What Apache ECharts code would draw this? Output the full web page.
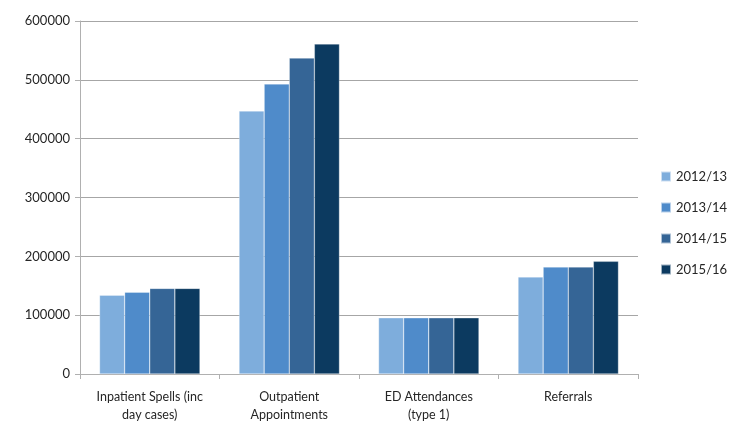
<!DOCTYPE html>
<html>
<head>
<meta charset="utf-8">
<script src="https://cdn.jsdelivr.net/npm/echarts@6/dist/echarts.min.js"></script>
<style>
  html, body { margin: 0; padding: 0; background: #fff; }
  #main { width: 741px; height: 426px; }
</style>
</head>
<body>
<div id="main"></div>
<script>
var categories = ['Inpatient Spells (inc\nday cases)', 'Outpatient\nAppointments', 'ED Attendances\n(type 1)', 'Referrals'];
var seriesNames = ['2012/13', '2013/14', '2014/15', '2015/16'];
var values1213 = [134000, 447000, 95500, 165000];
var values1314 = [139000, 493000, 95500, 182000];
var values1415 = [145500, 537000, 95500, 182000];
var values1516 = [145500, 561000, 95500, 191500];
var colors = ['#7eaddc', '#4f8bca', '#356596', '#0c3a60'];

var allValues = [values1213, values1314, values1415, values1516];
var font = 'Lato, "Open Sans", sans-serif';

var series = [];
seriesNames.forEach(function (name, i) {
    series.push({
        name: name,
        type: 'bar',
        data: allValues[i],
        barGap: '0%',
        barCategoryGap: '28%',
        itemStyle: {
            color: colors[i],
            borderColor: 'rgba(255,255,255,0.6)',
            borderWidth: 0.5
        }
    });
});

var myChart = echarts.init(document.getElementById('main'));
var option = {
    animation: false,
    textStyle: { fontFamily: font },
    grid: { left: 80, right: 103, top: 21, bottom: 52 },
    legend: {
        orient: 'vertical',
        left: 655,
        top: 165,
        itemWidth: 10,
        itemHeight: 10,
        itemGap: 18,
        icon: 'rect',
        textStyle: { fontSize: 13, color: '#262626', fontFamily: font }
    },
    xAxis: {
        type: 'category',
        data: categories,
        axisLine: { lineStyle: { color: '#b0b0b0', width: 1 } },
        axisTick: { show: true, length: 5, lineStyle: { color: '#b0b0b0' } },
        axisLabel: { interval: 0, color: '#262626', fontSize: 12.5, lineHeight: 18, margin: 14, fontFamily: font }
    },
    yAxis: {
        type: 'value',
        min: 0,
        max: 600000,
        interval: 100000,
        axisLine: { show: true, lineStyle: { color: '#b0b0b0', width: 1 } },
        axisTick: { show: true, length: 5, lineStyle: { color: '#b0b0b0' } },
        splitLine: { lineStyle: { color: '#a6a6a6', width: 1 } },
        axisLabel: {
            color: '#262626', fontSize: 13, margin: 10, fontFamily: font,
            formatter: function (v) { return String(v); }
        }
    },
    series: series
};
myChart.setOption(option);
</script>
</body>
</html>
